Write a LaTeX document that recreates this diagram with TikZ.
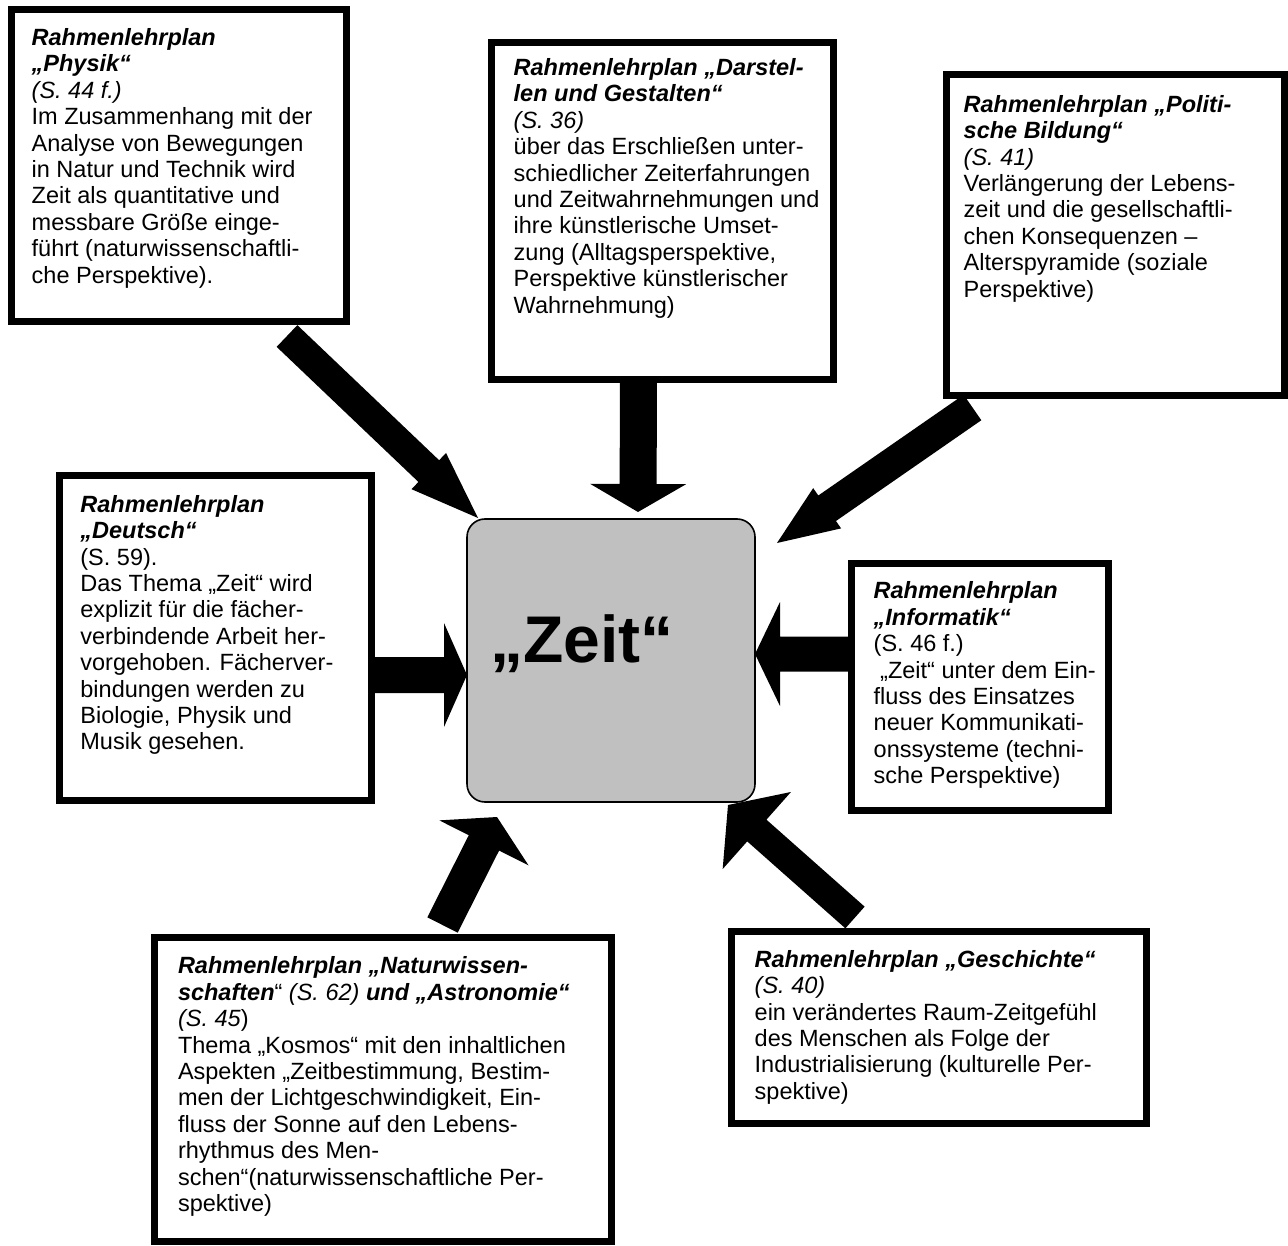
\documentclass[tikz,border=0pt]{standalone}
\usepackage{fontspec}
\setmainfont{Liberation Sans}
\usetikzlibrary{calc}
\definecolor{zeitgrau}{RGB}{192,192,192}
% bold italic heading text
\newcommand{\rlp}[1]{\textbf{\textit{#1}}}
% block arrow: #1 tail, #2 tip, #3 half shaft width, #4 half head width, #5 head length (pt)
\newcommand{\zeitpfeil}[5]{%
  \coordinate (zp-h) at ($(#2)!#5pt!(#1)$);
  \fill[pfeil] ($(#1)!#3pt!90:(#2)$) -- ($(zp-h)!#3pt!90:(#2)$) -- ($(zp-h)!#4pt!90:(#2)$)
    -- (#2) -- ($(zp-h)!#4pt!-90:(#2)$) -- ($(zp-h)!#3pt!-90:(#2)$) -- ($(#1)!#3pt!-90:(#2)$) -- cycle;}
\pgfdeclarelayer{grund}
\pgfdeclarelayer{pfeile}
\pgfsetlayers{grund,pfeile,main}
\begin{document}
\begin{tikzpicture}[x=1pt,y=-1pt,
  rahmen/.style={draw=black, line width=7pt, fill=white, rectangle, inner sep=0pt, outer sep=0pt, anchor=north west},
  inhalt/.style={anchor=north west, align=left, inner sep=0pt, font=\fontsize{23.5}{26.4}\selectfont},
  zeitbox/.style={draw=black, line width=1.6pt, fill=zeitgrau, rounded corners=18pt, minimum width=288pt, minimum height=283pt, inner sep=0pt, outer sep=0pt},
  zeittext/.style={anchor=base west, inner sep=0pt, font=\bfseries\fontsize{66}{79}\selectfont},
  pfeil/.style={fill=black}]
\begin{pgfonlayer}{grund}
  \fill[white] (0,0) rectangle (1288,1246);
\end{pgfonlayer}
\useasboundingbox (0,0) rectangle (1288,1246);

% frames
\node[rahmen, minimum width=335pt, minimum height=311.5pt] (physik) at (11.5,10) {};
\node[rahmen, minimum width=342pt, minimum height=337pt] (darstellen) at (491,43) {};
\node[rahmen, minimum width=338pt, minimum height=321pt] (politik) at (946,75) {};
\node[rahmen, minimum width=312pt, minimum height=325pt] (deutsch) at (59,475) {};
\node[rahmen, minimum width=257pt, minimum height=247pt] (informatik) at (851,563) {};
\node[rahmen, minimum width=457pt, minimum height=304pt] (natur) at (154,937) {};
\node[rahmen, minimum width=415pt, minimum height=192pt] (geschichte) at (731,931) {};

% central topic
\node[zeitbox] (zeit) at (611,660.5) {};
\node[zeittext] (zeitlabel) at ($(zeit.north west)+(23,143)$) {„Zeit“};

% frame texts
\node[inhalt] (physiktext) at ($(physik.north west)+(20,18.3)$) {%
\rlp{Rahmenlehrplan}\\
\rlp{„Physik“}\\
\textit{(S. 44 f.)}\\
Im Zusammenhang mit der\\
Analyse von Bewegungen\\
in Natur und Technik wird\\
Zeit als quantitative und\\
messbare Größe einge-\\
führt (naturwissenschaftli-\\
che Perspektive).};

\node[inhalt] (darstellentext) at ($(darstellen.north west)+(22.5,15.3)$) {%
\rlp{Rahmenlehrplan „Darstel-}\\
\rlp{len und Gestalten“}\\
\textit{(S. 36)}\\
über das Erschließen unter-\\
schiedlicher Zeiterfahrungen\\
und Zeitwahrnehmungen und\\
ihre künstlerische Umset-\\
zung (Alltagsperspektive,\\
Perspektive künstlerischer\\
Wahrnehmung)};

\node[inhalt] (politiktext) at ($(politik.north west)+(17.5,20)$) {%
\rlp{Rahmenlehrplan „Politi-}\\
\rlp{sche Bildung“}\\
\textit{(S. 41)}\\
Verlängerung der Lebens-\\
zeit und die gesellschaftli-\\
chen Konsequenzen –\\
Alterspyramide (soziale\\
Perspektive)};

\node[inhalt] (deutschtext) at ($(deutsch.north west)+(21.2,20)$) {%
\rlp{Rahmenlehrplan}\\
\rlp{„Deutsch“}\\
(S. 59).\\
Das Thema „Zeit“ wird\\
explizit für die fächer-\\
verbindende Arbeit her-\\
vorgehoben. Fächerver-\\
bindungen werden zu\\
Biologie, Physik und\\
Musik gesehen.};

\node[inhalt] (informatiktext) at ($(informatik.north west)+(22.5,18.6)$) {%
\rlp{Rahmenlehrplan}\\
\rlp{„Informatik“}\\
(S. 46 f.)\\
~„Zeit“ unter dem Ein-\\
fluss des Einsatzes\\
neuer Kommunikati-\\
onssysteme (techni-\\
sche Perspektive)};

\node[inhalt] (naturtext) at ($(natur.north west)+(23.8,19.6)$) {%
\rlp{Rahmenlehrplan „Naturwissen-}\\
\rlp{schaften}“ \textit{(S. 62)} \rlp{und „Astronomie“}\\
\textit{(S. 45})\\
Thema „Kosmos“ mit den inhaltlichen\\
Aspekten „Zeitbestimmung, Bestim-\\
men der Lichtgeschwindigkeit, Ein-\\
fluss der Sonne auf den Lebens-\\
rhythmus des Men-\\
schen“(naturwissenschaftliche Per-\\
spektive)};

\node[inhalt] (geschichtetext) at ($(geschichte.north west)+(23.5,19)$) {%
\rlp{Rahmenlehrplan „Geschichte“}\\
\textit{(S. 40)}\\
ein verändertes Raum-Zeitgefühl\\
des Menschen als Folge der\\
Industrialisierung (kulturelle Per-\\
spektive)};

% arrow ends
\coordinate (p1a) at ($(physik.south)+(108,14.5)$);
\coordinate (p1b) at ($(zeit.north west)+(11,-1)$);
\coordinate (p2a) at ($(darstellen.south)+(-23.5,0)$);
\coordinate (p2b) at ($(zeit.north)+(27,-7)$);
\coordinate (p3a) at ($(politik.south)+(-142.5,11.5)$);
\coordinate (p3b) at ($(zeit.north east)+(22,24)$);
\coordinate (p4a) at ($(deutsch.north east)+(0,200)$);
\coordinate (p4b) at ($(zeit.north west)+(0,156)$);
\coordinate (p5a) at ($(informatik.north west)+(0,91)$);
\coordinate (p5b) at ($(zeit.north east)+(0,135)$);
\coordinate (p6a) at ($(natur.north west)+(288.5,-12)$);
\coordinate (p6b) at ($(zeit.south west)+(30,15)$);
\coordinate (p7a) at ($(geschichte.north west)+(124,-13.5)$);
\coordinate (p7b) at ($(zeit.south)+(117,3)$);

\begin{pgfonlayer}{pfeile}
  \zeitpfeil{p1a}{p1b}{15}{25}{68}
  \zeitpfeil{p2a}{p2b}{18.5}{48}{28}
  \zeitpfeil{p3a}{p3b}{15.5}{24.5}{61}
  \zeitpfeil{p4a}{p4b}{18}{52}{23}
  \zeitpfeil{p5a}{p5b}{17.5}{52}{25}
  \zeitpfeil{p6a}{p6b}{17}{50}{29}
  \zeitpfeil{p7a}{p7b}{14.5}{51.5}{38.5}
\end{pgfonlayer}
\end{tikzpicture}
\end{document}
